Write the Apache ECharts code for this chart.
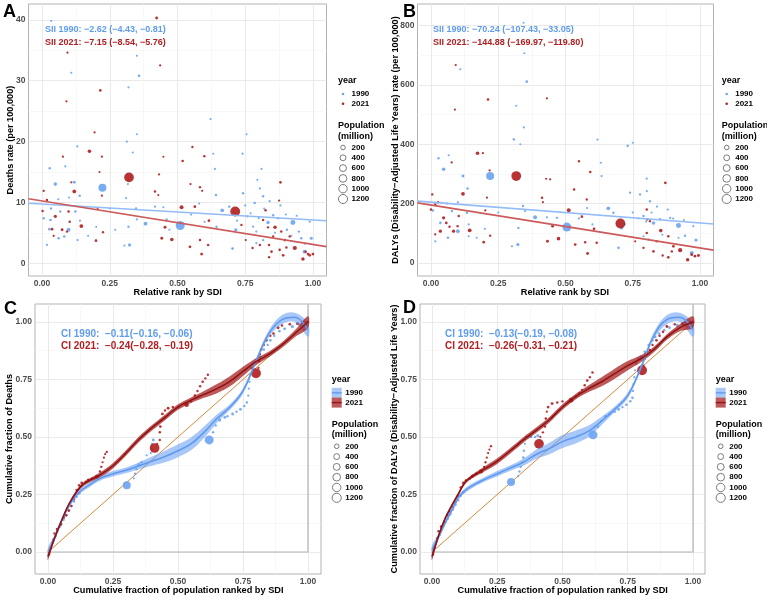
<!DOCTYPE html>
<html><head><meta charset="utf-8">
<script src="https://cdn.jsdelivr.net/npm/echarts@6/dist/echarts.min.js"></script>
<style>html,body{margin:0;padding:0;background:#fff}#c{width:767px;height:599px}</style>
</head><body><div id="c"></div>
<script>
// ---------------- data ----------------
var xTicks = [0, 0.25, 0.5, 0.75, 1];
var xMinor = [0.125, 0.375, 0.625, 0.875];
var yTicksA = [0, 10, 20, 30, 40], yMinorA = [5, 15, 25, 35];
var yTicksB = [0, 200, 400, 600, 800], yMinorB = [100, 300, 500, 700];
var yTicksC = [0, 0.25, 0.5, 0.75, 1], yMinorC = [0.125, 0.375, 0.625, 0.875];
var legendSizes = [200, 400, 600, 800, 1000, 1200];
var years = ['1990', '2021'];

// Panel A: [relative rank, deaths rate, population (million)]
var A_1990 = [[0.034,39.8,8],[0.108,31.3,10],[0.13,19.2,10],[0.313,20.0,12],[0.319,28.9,8],[0.35,34.1,8],[0.358,30.8,30],[0.35,21.2,6],[0.622,23.7,10],[0.755,21.2,6],
[0.223,12.4,870],[0.51,6.2,1150],[0.049,13.0,90],[0.119,13.3,40],[0.028,15.6,15],[0.139,11.1,20],[0.033,9.0,15],[0.006,7.4,20],[0.031,7.1,25],[0.018,3.0,10],[0.061,4.1,20],[0.098,5.5,110],[0.082,4.4,25],[0.027,5.6,30],[0.123,8.5,20],[0.067,8.5,15],[0.086,15.9,10],[0.131,3.8,10],[0.335,18.2,10],[0.317,13.0,8],[0.31,10.7,10],[0.347,9.0,15],[0.35,7.2,10],[0.323,3.0,60],[0.304,2.9,10],[0.319,6.0,15],[0.382,6.5,120],[0.417,9.3,12],[0.46,7.2,15],[0.47,5.5,10],[0.448,9.2,8],[0.632,18.0,8],[0.638,15.5,10],[0.642,11.2,20],[0.665,8.7,100],[0.644,6.0,15],[0.691,9.3,20],[0.703,2.4,30],[0.715,5.5,60],[0.742,11.5,15],[0.74,18.0,10],[0.785,9.9,20],[0.758,7.7,15],[0.779,6.0,10],[0.791,5.2,12],[0.81,15.5,8],[0.795,13.7,10],[0.804,12.3,12],[0.816,11.0,15],[0.834,6.7,80],[0.853,7.9,20],[0.871,7.4,15],[0.926,6.7,250],[0.904,5.5,20],[0.948,5.2,15],[0.957,4.1,20],[0.994,4.1,60],[0.969,1.9,120],[0.988,6.8,10],[0.816,3.8,15],[0.791,3.3,10],
[0.72,7.0,8],[0.75,9.5,10],[0.77,8.2,8],[0.8,7.4,10],[0.82,9.0,8],[0.84,10.2,10],[0.86,5.0,8],[0.88,9.5,10],[0.9,8.0,8],[0.92,4.5,10],[0.94,7.8,8],[0.97,3.2,10],[0.6,6.8,8],[0.58,9.8,8],[0.55,8.0,10],[0.2,6.0,8],[0.17,4.5,8],[0.25,9.0,8],[0.27,5.5,8],[0.06,10.5,10],[0.1,10.8,8],[0.14,7.0,8]];
var A_2021 = [[0.423,40.3,40],[0.094,34.6,10],[0.09,26.6,10],[0.215,28.4,25],[0.194,21.5,10],[0.436,32.5,12],[0.555,19.1,15],
[0.175,18.4,90],[0.077,17.5,12],[0.221,17.5,12],[0.212,15.0,8],[0.321,14.1,1400],[0.119,11.8,100],[0.221,11.1,10],[0.145,6.1,110],[0.199,3.7,30],[0.225,5.1,15],[0.205,8.9,12],[0.006,11.9,15],[0.018,10.4,20],[0.002,8.6,20],[0.049,7.7,60],[0.037,5.6,30],[0.074,5.5,40],[0.098,8.5,25],[0.102,6.8,20],[0.092,5.2,15],[0.043,4.5,12],[0.108,13.3,10],[0.448,17.5,8],[0.432,14.6,10],[0.417,11.8,20],[0.429,11.2,8],[0.519,16.8,25],[0.599,17.6,20],[0.548,13.0,12],[0.583,12.5,15],[0.591,11.9,10],[0.515,9.2,120],[0.564,9.3,30],[0.616,7.0,30],[0.454,5.9,40],[0.442,4.1,40],[0.479,3.9,90],[0.546,2.7,30],[0.583,3.8,20],[0.613,3.0,20],[0.589,1.5,40],[0.713,8.5,1420],[0.736,6.3,15],[0.825,8.7,20],[0.875,10.3,12],[0.88,13.3,30],[0.816,7.1,20],[0.834,5.9,15],[0.86,5.9,90],[0.883,5.2,20],[0.853,4.4,15],[0.896,3.8,30],[0.914,4.4,15],[0.933,2.5,150],[0.838,3.0,20],[0.847,1.9,25],[0.838,1.0,15],[0.89,1.3,30],[0.902,2.6,20],[0.877,2.2,25],[0.963,0.7,80],[0.982,1.5,40],[0.988,1.3,30],[1.0,1.5,40],[0.973,1.9,20],[0.777,2.5,15],[0.804,3.0,20],[0.752,3.8,10]];

// Panel B: [relative rank, DALY rate, population]
var B_1990 = [[0.109,653,10],[0.344,810,8],[0.347,707,8],[0.356,611,30],[0.317,530,8],[0.345,457,8],[0.309,416,10],[0.332,400,8],[0.619,416,10],[0.731,396,8],[0.75,405,6],
[0.22,293,870],[0.505,121,1150],[0.047,316,90],[0.119,293,40],[0.028,353,15],[0.066,363,10],[0.136,251,20],[0.007,177,20],[0.035,135,25],[0.016,73,10],[0.1,107,110],[0.063,85,25],[0.134,169,20],[0.078,175,15],[0.14,90,10],[0.307,417,10],[0.323,62,60],[0.301,56,10],[0.342,192,15],[0.35,175,10],[0.325,118,15],[0.387,154,120],[0.431,154,12],[0.468,152,15],[0.631,338,8],[0.634,293,10],[0.659,184,100],[0.678,169,20],[0.697,51,30],[0.709,118,60],[0.74,237,15],[0.731,394,10],[0.79,158,20],[0.802,284,10],[0.802,242,12],[0.777,231,15],[0.814,208,15],[0.827,135,80],[0.851,147,20],[0.889,152,15],[0.92,126,250],[0.944,92,20],[0.985,77,60],[0.969,34,120],[0.975,124,10],[0.808,79,15],[0.79,90,10],
[0.72,130,8],[0.75,170,10],[0.77,150,8],[0.8,140,10],[0.82,170,8],[0.84,190,10],[0.86,95,8],[0.88,180,10],[0.9,150,8],[0.92,85,10],[0.94,145,8],[0.6,130,8],[0.58,185,8],[0.55,150,10],[0.2,115,8],[0.17,85,8],[0.25,170,8],[0.06,200,10],[0.1,205,8],[0.14,130,8]];
var B_2021 = [[0.092,667,10],[0.089,517,10],[0.212,551,25],[0.431,555,12],
[0.173,370,90],[0.193,370,10],[0.077,339,12],[0.218,312,12],[0.317,293,1400],[0.119,233,100],[0.208,220,10],[0.005,231,15],[0.016,197,20],[0.026,205,15],[0.0,180,20],[0.047,152,60],[0.057,135,30],[0.069,122,20],[0.035,107,60],[0.084,107,60],[0.103,158,20],[0.099,124,15],[0.016,96,12],[0.144,110,110],[0.196,70,30],[0.22,92,15],[0.202,177,12],[0.428,284,8],[0.443,282,10],[0.413,220,20],[0.416,205,8],[0.452,124,40],[0.433,73,40],[0.474,82,90],[0.512,178,120],[0.55,343,15],[0.532,248,20],[0.592,307,20],[0.561,156,30],[0.579,214,15],[0.606,115,30],[0.536,62,30],[0.582,32,40],[0.573,70,20],[0.616,68,20],[0.704,133,1420],[0.802,180,20],[0.814,141,15],[0.871,270,30],[0.854,109,90],[0.882,90,20],[0.901,56,30],[0.926,43,150],[0.839,73,20],[0.827,39,25],[0.861,25,15],[0.882,19,30],[0.895,39,20],[0.954,11,80],[0.969,28,40],[0.981,23,30],[0.994,25,40],[0.802,101,20],[0.759,73,10],[0.79,51,15],[0.804,147,15]];

// SII regression: [intercept, slope]
var A_fit1990 = [9.73, -2.62], A_fit2021 = [10.23, -7.15];
var B_fit1990 = [204.8, -70.24], B_fit2021 = [195.3, -144.88];

// Panel C: cumulative points [cum pop, cum deaths, pop]
var C_1990 = [[0.005,0.01,5],[0.01,0.02,8],[0.015,0.04,10],[0.02,0.055,15],[0.03,0.07,20],[0.035,0.09,25],[0.045,0.11,30],[0.05,0.125,15],[0.06,0.14,20],[0.07,0.16,35],[0.08,0.18,25],[0.09,0.2,20],[0.1,0.22,30],[0.11,0.24,25],[0.12,0.255,40],[0.303,0.29,870],[0.33,0.32,10],[0.335,0.34,15],[0.34,0.36,20],[0.345,0.375,10],[0.35,0.38,25],[0.36,0.39,15],[0.38,0.42,10],[0.395,0.43,10],[0.4,0.45,20],[0.4,0.47,15],[0.405,0.487,40],[0.62,0.487,1150],[0.635,0.52,20],[0.645,0.55,15],[0.66,0.574,60],[0.68,0.585,30],[0.69,0.59,20],[0.71,0.6,40],[0.725,0.61,15],[0.74,0.62,30],[0.755,0.635,20],[0.765,0.65,25],[0.77,0.68,10],[0.772,0.71,10],[0.775,0.74,12],[0.778,0.77,10],[0.782,0.8,15],[0.79,0.82,30],[0.8,0.83,20],[0.815,0.85,25],[0.83,0.88,20],[0.845,0.9,15],[0.855,0.92,30],[0.87,0.94,20],[0.89,0.96,25],[0.91,0.97,40],[0.94,0.98,60],[0.965,0.99,30],[0.98,0.995,20],[1.0,1.0,10]];
var C_2021 = [[0.005,-0.01,5],[0.01,0.02,10],[0.02,0.05,15],[0.025,0.08,20],[0.035,0.1,30],[0.05,0.12,25],[0.06,0.15,35],[0.07,0.16,20],[0.08,0.18,30],[0.09,0.2,15],[0.1,0.23,25],[0.11,0.27,20],[0.12,0.29,30],[0.13,0.3,40],[0.145,0.305,25],[0.155,0.313,60],[0.17,0.32,20],[0.188,0.327,150],[0.2,0.35,20],[0.205,0.37,15],[0.21,0.39,10],[0.215,0.41,12],[0.22,0.425,10],[0.226,0.435,15],[0.41,0.452,1400],[0.42,0.47,10],[0.43,0.487,15],[0.43,0.52,20],[0.432,0.545,25],[0.435,0.57,10],[0.44,0.6,30],[0.45,0.615,15],[0.462,0.625,40],[0.48,0.63,20],[0.5,0.63,15],[0.533,0.64,200],[0.55,0.655,20],[0.565,0.68,25],[0.575,0.7,15],[0.585,0.72,20],[0.595,0.74,25],[0.605,0.755,15],[0.615,0.77,20],[0.8,0.777,1420],[0.81,0.8,10],[0.812,0.83,20],[0.815,0.86,15],[0.82,0.88,25],[0.83,0.9,15],[0.84,0.92,30],[0.855,0.94,20],[0.867,0.95,25],[0.885,0.975,40],[0.9,0.985,20],[0.93,0.99,30],[0.96,0.993,60],[0.98,0.996,20],[0.99,1.0,15],[1.0,1.0,10]];
// smoothed concentration curves [x, y] and half-width of confidence band
var fitX = [0,0.025,0.05,0.075,0.1,0.125,0.15,0.2,0.25,0.3,0.35,0.4,0.45,0.5,0.55,0.6,0.65,0.7,0.75,0.8,0.85,0.9,0.95,1.0];
var C_curve1990 = [0,0.06,0.13,0.19,0.235,0.265,0.285,0.32,0.34,0.355,0.375,0.395,0.415,0.44,0.47,0.52,0.58,0.63,0.7,0.83,0.95,1.01,1.02,0.965];
var C_curve2021 = [-0.02,0.06,0.13,0.195,0.245,0.283,0.305,0.335,0.375,0.43,0.49,0.54,0.585,0.63,0.66,0.685,0.71,0.742,0.785,0.827,0.86,0.9,0.95,1.0];
var C_se1990 = [0.02,0.012,0.01,0.01,0.01,0.01,0.01,0.01,0.012,0.012,0.015,0.02,0.025,0.028,0.028,0.025,0.018,0.012,0.012,0.012,0.015,0.02,0.02,0.03];
var C_se2021 = [0.015,0.01,0.008,0.008,0.008,0.008,0.008,0.01,0.012,0.012,0.012,0.012,0.012,0.012,0.012,0.015,0.02,0.022,0.02,0.015,0.012,0.012,0.015,0.025];

// Panel D
var D_1990 = [[0.005,0.01,5],[0.01,0.025,8],[0.015,0.04,10],[0.02,0.06,15],[0.03,0.075,20],[0.035,0.095,25],[0.045,0.115,30],[0.05,0.13,15],[0.06,0.145,20],[0.07,0.165,35],[0.08,0.185,25],[0.09,0.205,20],[0.1,0.225,30],[0.11,0.245,25],[0.12,0.26,40],[0.303,0.304,870],[0.33,0.33,10],[0.335,0.35,15],[0.34,0.37,20],[0.345,0.39,10],[0.35,0.41,25],[0.352,0.44,15],[0.356,0.47,10],[0.36,0.5,10],[0.38,0.5,20],[0.395,0.5,15],[0.405,0.505,40],[0.617,0.509,1150],[0.636,0.545,20],[0.65,0.57,15],[0.665,0.59,60],[0.68,0.6,30],[0.7,0.61,20],[0.715,0.62,40],[0.73,0.63,15],[0.745,0.64,30],[0.76,0.655,20],[0.768,0.67,25],[0.77,0.7,10],[0.772,0.73,10],[0.775,0.76,12],[0.778,0.79,10],[0.782,0.82,15],[0.79,0.84,30],[0.8,0.85,20],[0.815,0.87,25],[0.83,0.9,20],[0.845,0.92,15],[0.855,0.935,30],[0.87,0.95,20],[0.89,0.965,25],[0.91,0.975,40],[0.94,0.985,60],[0.965,0.99,30],[0.98,0.995,20],[1.0,1.0,10]];
var D_2021 = [[0.005,-0.01,5],[0.01,0.02,10],[0.02,0.06,15],[0.025,0.09,20],[0.035,0.11,30],[0.05,0.13,25],[0.06,0.16,35],[0.07,0.175,20],[0.08,0.195,30],[0.09,0.215,15],[0.1,0.245,25],[0.11,0.28,20],[0.12,0.3,30],[0.13,0.31,40],[0.145,0.32,25],[0.155,0.33,60],[0.17,0.34,20],[0.188,0.35,150],[0.2,0.37,20],[0.205,0.39,15],[0.21,0.41,10],[0.215,0.43,12],[0.22,0.445,10],[0.226,0.46,15],[0.41,0.47,1400],[0.415,0.5,10],[0.425,0.52,15],[0.433,0.545,20],[0.436,0.58,25],[0.44,0.61,10],[0.445,0.63,30],[0.46,0.645,40],[0.48,0.65,20],[0.5,0.655,15],[0.533,0.66,200],[0.55,0.675,20],[0.565,0.69,25],[0.575,0.705,15],[0.585,0.725,20],[0.595,0.745,25],[0.605,0.76,15],[0.615,0.78,20],[0.805,0.79,1420],[0.81,0.81,10],[0.815,0.84,20],[0.82,0.86,15],[0.835,0.878,25],[0.845,0.9,15],[0.86,0.92,30],[0.872,0.94,20],[0.885,0.957,25],[0.9,0.98,40],[0.93,0.99,20],[0.96,0.993,60],[0.98,0.996,20],[0.99,1.0,15],[1.0,1.0,10]];
var D_curve1990 = [0.01,0.065,0.125,0.18,0.235,0.265,0.285,0.315,0.34,0.365,0.39,0.425,0.45,0.48,0.5,0.525,0.57,0.62,0.68,0.8,0.94,1.01,1.02,0.965];
var D_curve2021 = [-0.02,0.07,0.145,0.2,0.25,0.3,0.325,0.36,0.395,0.44,0.487,0.53,0.575,0.63,0.675,0.71,0.74,0.775,0.81,0.84,0.88,0.935,0.975,1.0];
var D_se1990 = C_se1990, D_se2021 = C_se2021;

var annot = {
  A: ['SII 1990: \u22122.62 (\u22124.43, \u22120.81)', 'SII 2021: \u22127.15 (\u22128.54, \u22125.76)'],
  B: ['SII 1990: \u221270.24 (\u2212107.43, \u221233.05)', 'SII 2021: \u2212144.88 (\u2212169.97, \u2212119.80)'],
  C: ['CI 1990:  \u22120.11(\u22120.16, \u22120.06)', 'CI 2021:  \u22120.24(\u22120.28, \u22120.19)'],
  D: ['CI 1990:  \u22120.13(\u22120.19, \u22120.08)', 'CI 2021:  \u22120.26(\u22120.31, \u22120.21)']
};

// ---------------- styling / layout ----------------
var FONT = "'Liberation Sans', Arial, Helvetica, sans-serif";
var BLUE = '#6ea5f2', RED = '#b22222';
var BLUE_LN = '#93bbf7', RED_LN = '#cc5b5b';
var BLUE_TX = '#5f9cef', RED_TX = '#b11f22';
var BLUE_RIB = 'rgba(110,163,245,0.6)', RED_RIB = 'rgba(165,25,25,0.72)';
var BLUE_FIT = '#5e99ee', RED_FIT = '#8e1212';
var ORANGE = '#d8893a';

function sz(p) { return 1.5 + 0.22 * Math.sqrt(p); }
function f2(v) { return v.toFixed(2); }

var panels = [
  {left:28.5, top:4, width:298, height:272, xMin:-0.05, xMax:1.05, yMin:-2.1, yMax:42.6, yT:yTicksA, yM:yMinorA, yF:function(v){return String(v);}},
  {left:417.5, top:4, width:296, height:272, xMin:-0.05, xMax:1.05, yMin:-44, yMax:873, yT:yTicksB, yM:yMinorB, yF:function(v){return String(v);}},
  {left:35, top:304, width:286, height:270, xMin:-0.05, xMax:1.05, yMin:-0.0957, yMax:1.078, yT:yTicksC, yM:yMinorC, yF:f2},
  {left:420, top:304, width:285, height:270, xMin:-0.046, xMax:1.046, yMin:-0.0957, yMax:1.078, yT:yTicksC, yM:yMinorC, yF:f2}
];

var grids = [], xAxes = [], yAxes = [], series = [], graphics = [];
var lblStyle = {fontFamily:FONT, fontSize:8.5, fontWeight:'bold', color:'#4d4d4d'};

panels.forEach(function(p, i){
  grids.push({left:p.left, top:p.top, width:p.width, height:p.height, show:true, borderColor:'#b3b3b3', borderWidth:1, backgroundColor:'transparent', containLabel:false, outerBoundsMode:'none'});
  xAxes.push({type:'value', gridIndex:i, min:p.xMin, max:p.xMax,
    axisLine:{show:false}, axisTick:{show:false, customValues:xTicks},
    axisLabel:Object.assign({show:true, customValues:xTicks, formatter:f2, margin:3}, lblStyle),
    splitLine:{show:true, lineStyle:{color:'#e8e8e8', width:0.9}}});
  yAxes.push({type:'value', gridIndex:i, min:p.yMin, max:p.yMax,
    axisLine:{show:false}, axisTick:{show:false, customValues:p.yT},
    axisLabel:Object.assign({show:true, customValues:p.yT, formatter:p.yF, margin:3}, lblStyle),
    splitLine:{show:true, lineStyle:{color:'#e8e8e8', width:0.9}}});
  xAxes.push({type:'value', gridIndex:i, min:p.xMin, max:p.xMax,
    axisLine:{show:false}, axisTick:{show:false, customValues:xMinor},
    axisLabel:{show:false}, splitLine:{show:true, lineStyle:{color:'#f3f3f3', width:0.6}}});
  yAxes.push({type:'value', gridIndex:i, min:p.yMin, max:p.yMax,
    axisLine:{show:false}, axisTick:{show:false, customValues:p.yM},
    axisLabel:{show:false}, splitLine:{show:true, lineStyle:{color:'#f3f3f3', width:0.6}}});
});
function ax(i){ return {xAxisIndex:2*i, yAxisIndex:2*i}; }

function scatter(i, data, color, z){
  return Object.assign({type:'scatter', data:data, symbolSize:function(d){return sz(d[2]);},
    itemStyle:{color:color, opacity:0.92}, silent:true, z:z||3}, ax(i));
}
function regLine(i, fit, color){
  var p = panels[i];
  return Object.assign({type:'line', data:[[p.xMin, fit[0]+fit[1]*p.xMin],[p.xMax, fit[0]+fit[1]*p.xMax]],
    symbol:'none', lineStyle:{color:color, width:1.6}, silent:true, z:5}, ax(i));
}
function curve(ys){ return fitX.map(function(x,k){ return [x, ys[k]]; }); }
function ribbon(i, ys, se, color){
  return Object.assign({type:'custom', silent:true, z:4, data:[[0.5,0.5]],
    renderItem:function(params, api){
      var up = [], lo = [];
      for (var k=0;k<fitX.length;k++){
        up.push(api.coord([fitX[k], ys[k]+se[k]]));
        lo.push(api.coord([fitX[k], ys[k]-se[k]]));
      }
      return {type:'polygon', shape:{points:up.concat(lo.reverse()), smooth:0.35}, style:{fill:color}};
    }}, ax(i));
}
function fitLine(i, ys, color){
  return Object.assign({type:'line', data:curve(ys), smooth:0.4, symbol:'none',
    lineStyle:{color:color, width:1.5}, silent:true, z:5}, ax(i));
}

series.push(scatter(0, A_1990, BLUE), scatter(0, A_2021, RED), regLine(0, A_fit1990, BLUE_LN), regLine(0, A_fit2021, RED_LN));
series.push(scatter(1, B_1990, BLUE), scatter(1, B_2021, RED), regLine(1, B_fit1990, BLUE_LN), regLine(1, B_fit2021, RED_LN));
[[2, C_1990, C_2021, C_curve1990, C_curve2021, C_se1990, C_se2021],[3, D_1990, D_2021, D_curve1990, D_curve2021, D_se1990, D_se2021]].forEach(function(s){
  var i = s[0], p = panels[i];
  series.push(Object.assign({type:'line', data:[[0,0],[1,0],[1,p.yMax]], symbol:'none', lineStyle:{color:'#b3b3b3', width:1.2}, silent:true, z:1}, ax(i)));
  series.push(Object.assign({type:'line', data:[[0,0],[1,1]], symbol:'none', lineStyle:{color:ORANGE, width:1}, silent:true, z:2}, ax(i)));
  series.push(scatter(i, s[1], BLUE), scatter(i, s[2], RED));
  series.push(ribbon(i, s[3], s[5], BLUE_RIB), ribbon(i, s[4], s[6], RED_RIB));
  series.push(fitLine(i, s[3], BLUE_FIT), fitLine(i, s[4], RED_FIT));
});

// ---------------- text & legends ----------------
function txt(x, y, t, o){
  o = o || {};
  return {type:'text', x:x, y:y, rotation:o.rot||0, silent:true, z:100,
    style:{text:t, fill:o.color||'#000', fontFamily:FONT, fontSize:o.size||9, fontWeight:o.weight||'bold',
      align:o.align||'left', verticalAlign:'middle'}};
}
graphics.push(txt(3, 12, 'A', {size:18}), txt(403, 12, 'B', {size:18}), txt(4, 309, 'C', {size:18}), txt(403, 308, 'D', {size:18}));
graphics.push(txt(45, 30, annot.A[0], {color:BLUE_TX}), txt(45, 43, annot.A[1], {color:RED_TX}));
graphics.push(txt(433, 29.5, annot.B[0], {color:BLUE_TX}), txt(433, 42.5, annot.B[1], {color:RED_TX}));
graphics.push(txt(61, 334, annot.C[0], {color:BLUE_TX, size:10}), txt(61, 346, annot.C[1], {color:RED_TX, size:10}));
graphics.push(txt(445, 334, annot.D[0], {color:BLUE_TX, size:10}), txt(445, 346, annot.D[1], {color:RED_TX, size:10}));
var TS = 9.2;
graphics.push(txt(177.7, 292.7, 'Relative rank by SDI', {align:'center', size:TS}));
graphics.push(txt(565, 292.7, 'Relative rank by SDI', {align:'center', size:TS}));
graphics.push(txt(178.3, 590.7, 'Cumulative fraction of population ranked by SDI', {align:'center', size:TS}));
graphics.push(txt(562.7, 590.7, 'Cumulative fraction of population ranked by SDI', {align:'center', size:TS}));
graphics.push(txt(10, 140, 'Deaths rate (per 100,000)', {align:'center', size:TS, rot:Math.PI/2}));
graphics.push(txt(395, 140, 'DALYs (Disability\u2212Adjusted Life Years) rate (per 100,000)', {align:'center', size:TS, rot:Math.PI/2}));
graphics.push(txt(9.5, 439, 'Cumulative fraction of Deaths', {align:'center', size:TS, rot:Math.PI/2}));
graphics.push(txt(394.5, 439, 'Cumulative fraction of DALYs (Disability\u2212Adjusted Life Years)', {align:'center', size:TS, rot:Math.PI/2}));

function legend(lx, y0, ribbonKey){
  graphics.push(txt(lx, y0, 'year', {size:9}));
  var ry = [y0+13.5, y0+23.3];
  var cols = [[BLUE, BLUE_RIB, BLUE_FIT],[RED, RED_RIB, RED_FIT]];
  for (var k=0;k<2;k++){
    if (ribbonKey){
      graphics.push({type:'rect', silent:true, z:100, shape:{x:lx, y:ry[k]-5, width:10, height:10}, style:{fill:cols[k][1]}});
      graphics.push({type:'line', silent:true, z:101, shape:{x1:lx, y1:ry[k], x2:lx+10, y2:ry[k]}, style:{stroke:cols[k][2], lineWidth:1.3}});
      graphics.push({type:'circle', silent:true, z:102, shape:{cx:lx+5, cy:ry[k], r:1}, style:{fill:cols[k][0]}});
    } else {
      graphics.push({type:'circle', silent:true, z:100, shape:{cx:lx+5, cy:ry[k], r:1.3}, style:{fill:cols[k][0]}});
    }
    graphics.push(txt(lx+13.5, ry[k], years[k], {size:8}));
  }
  graphics.push(txt(lx, y0+45.5, 'Population', {size:9}), txt(lx, y0+55.7, '(million)', {size:9}));
  legendSizes.forEach(function(s, k){
    var cy = y0 + 67 + k*10.3;
    graphics.push({type:'circle', silent:true, z:100, shape:{cx:lx+5, cy:cy, r:sz(s)/2}, style:{fill:'none', stroke:'#5a5a5a', lineWidth:0.8}});
    graphics.push(txt(lx+13.5, cy, String(s), {size:8}));
  });
}
legend(338, 80.5, false);
legend(721.7, 80.5, false);
legend(331.7, 379.3, true);
legend(715.7, 379.3, true);

var chart = echarts.init(document.getElementById('c'), null, {renderer:'canvas'});
chart.setOption({
  animation:false,
  backgroundColor:'#fff',
  grid:grids, xAxis:xAxes, yAxis:yAxes, series:series, graphic:{elements:graphics}
});
</script></body></html>
